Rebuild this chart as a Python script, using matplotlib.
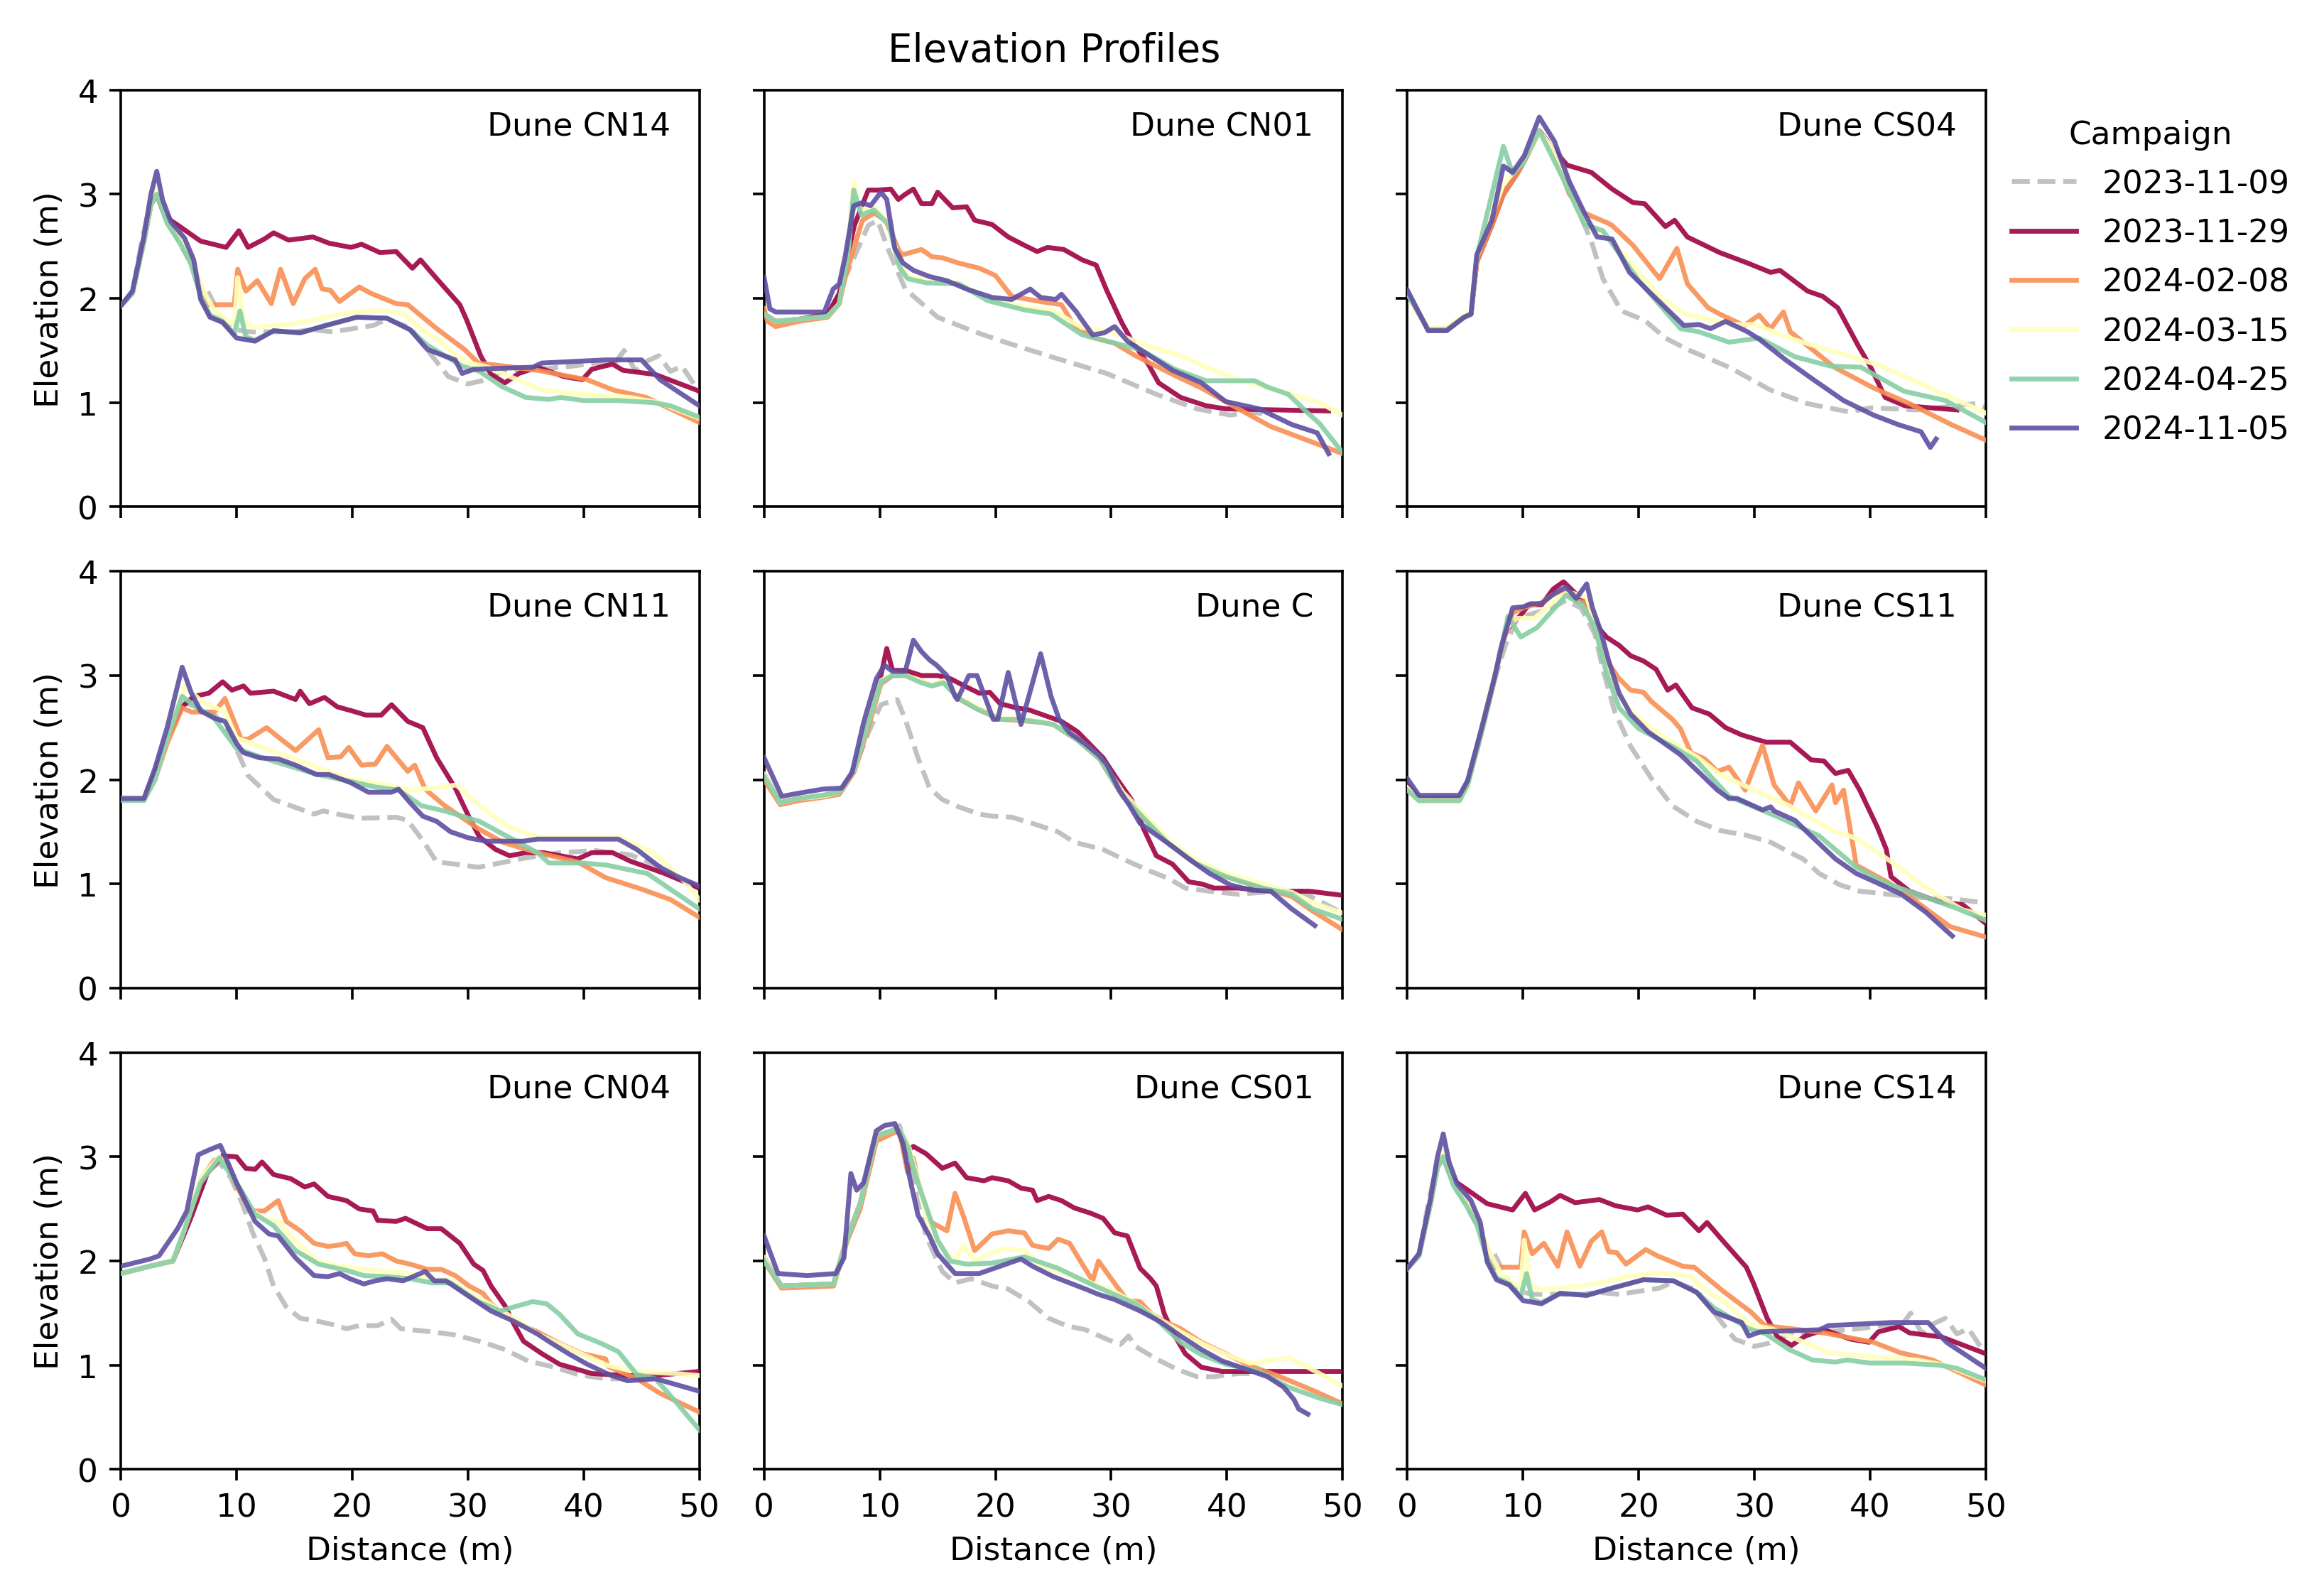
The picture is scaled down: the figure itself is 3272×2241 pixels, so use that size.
import matplotlib
matplotlib.use("Agg")
import matplotlib.pyplot as plt

# ---------------- data ----------------
CAMPAIGNS = ["2023-11-09", "2023-11-29", "2024-02-08", "2024-03-15", "2024-04-25", "2024-11-05"]
DUNES = ["Dune CN14", "Dune CN01", "Dune CS04",
         "Dune CN11", "Dune C", "Dune CS11",
         "Dune CN04", "Dune CS01", "Dune CS14"]

# ---- Dune CN14 ----
CN14_D_231109 = [0, 1, 1.8, 2.5, 3.1, 4, 5, 6, 7, 7.5, 9, 10, 11, 13, 15, 16.5, 18.3, 21.8, 23, 25, 27.1, 28.3, 30, 31.2, 33, 35, 37, 39, 41, 42.5, 43.5, 44.5, 45.5, 46.5, 47.5, 48.5, 50]
CN14_Z_231109 = [1.93, 2.05, 2.55, 2.9, 3.0, 2.75, 2.55, 2.35, 2.1, 2.07, 1.75, 1.7, 1.68, 1.68, 1.68, 1.7, 1.68, 1.74, 1.8, 1.72, 1.42, 1.25, 1.18, 1.21, 1.3, 1.32, 1.33, 1.35, 1.38, 1.35, 1.5, 1.3, 1.4, 1.45, 1.3, 1.35, 1.1]
CN14_D_231129 = [0, 1, 2, 2.6, 3.1, 3.6, 4.3, 5.1, 6.9, 9.1, 10.2, 11.0, 12.4, 13.2, 14.5, 16.6, 18, 19.9, 20.8, 22.4, 23.8, 25.2, 25.9, 27.3, 29.3, 29.9, 31.1, 32.0, 33.2, 34.4, 36, 38.3, 39.9, 40.7, 42.5, 43.4, 46.2, 50]
CN14_Z_231129 = [1.93, 2.05, 2.55, 2.9, 3.0, 2.85, 2.75, 2.69, 2.55, 2.49, 2.65, 2.49, 2.57, 2.63, 2.56, 2.59, 2.53, 2.49, 2.52, 2.44, 2.45, 2.29, 2.37, 2.19, 1.94, 1.79, 1.45, 1.27, 1.19, 1.28, 1.34, 1.25, 1.22, 1.32, 1.37, 1.31, 1.27, 1.11]
CN14_D_240208 = [0, 1, 2, 2.6, 3.1, 4, 5, 6, 6.9, 7.5, 9.8, 10.1, 10.8, 11.8, 13.0, 13.8, 14.9, 15.9, 16.8, 17.4, 18.1, 18.9, 20.6, 21.6, 23.8, 24.8, 27.3, 29.7, 30.9, 33.2, 36, 40.3, 42.6, 45.4, 50]
CN14_Z_240208 = [1.93, 2.05, 2.55, 2.9, 3.0, 2.75, 2.6, 2.4, 2.11, 1.94, 1.94, 2.28, 2.07, 2.17, 1.95, 2.28, 1.95, 2.19, 2.28, 2.09, 2.08, 1.97, 2.11, 2.05, 1.95, 1.94, 1.71, 1.51, 1.38, 1.35, 1.31, 1.22, 1.12, 1.05, 0.81]
CN14_D_240315 = [0, 1, 2, 2.6, 3.1, 4, 5, 6, 7, 8, 9, 9.8, 10.1, 10.6, 11.5, 13, 15, 17, 19, 21, 23, 24.5, 26, 27.5, 29, 30, 31.5, 33, 36.4, 40, 44, 46.5, 50]
CN14_Z_240315 = [1.93, 2.05, 2.55, 2.9, 3.05, 2.75, 2.6, 2.4, 2.1, 1.9, 1.8, 1.75, 2.2, 1.78, 1.72, 1.74, 1.76, 1.8, 1.85, 1.88, 1.88, 1.85, 1.7, 1.6, 1.45, 1.38, 1.35, 1.28, 1.12, 1.08, 1.05, 1.0, 0.85]
CN14_D_240425 = [0, 1, 2, 2.6, 3.1, 4, 5, 6, 6.9, 7.7, 8.8, 9.8, 10.3, 10.8, 11.6, 13.2, 15.5, 17.7, 20.4, 23, 25, 26.5, 28, 29.5, 31, 33, 35, 37, 38, 40, 43, 46, 47.5, 50]
CN14_Z_240425 = [1.93, 2.05, 2.55, 2.9, 3.0, 2.72, 2.55, 2.35, 2.02, 1.84, 1.78, 1.66, 1.88, 1.63, 1.6, 1.69, 1.67, 1.74, 1.82, 1.81, 1.7, 1.55, 1.45, 1.35, 1.3, 1.15, 1.05, 1.03, 1.05, 1.02, 1.02, 1.0, 0.97, 0.86]
CN14_D_241105 = [0, 1, 2, 2.6, 3.1, 3.6, 4.3, 5.5, 6.3, 6.9, 7.7, 8.8, 10, 11.6, 13.2, 15.5, 17.7, 20.4, 23, 25, 26.5, 28.9, 29.5, 30.5, 35.6, 36.4, 41.9, 45, 46.6, 50]
CN14_Z_241105 = [1.93, 2.07, 2.6, 3.0, 3.22, 2.95, 2.74, 2.58, 2.37, 1.99, 1.82, 1.77, 1.62, 1.59, 1.69, 1.67, 1.74, 1.82, 1.81, 1.7, 1.51, 1.41, 1.28, 1.32, 1.34, 1.38, 1.41, 1.41, 1.22, 0.97]

# ---- Dune CN01 ----
CN01_D_231109 = [0, 1, 3, 5, 6, 7, 8, 9, 9.8, 10.8, 12.2, 15, 18.2, 21.1, 25.4, 29.6, 33.9, 37.4, 40.3, 42.1, 44]
CN01_Z_231109 = [1.85, 1.78, 1.8, 1.82, 1.9, 2.2, 2.45, 2.7, 2.75, 2.45, 2.09, 1.82, 1.68, 1.57, 1.42, 1.28, 1.08, 0.94, 0.88, 0.91, 0.88]
CN01_D_231129 = [0, 1, 3, 5.5, 6.5, 7.2, 7.8, 8.5, 9.0, 9.9, 10.95, 11.6, 12.2, 12.9, 13.6, 14.5, 15.0, 16.3, 17.5, 18.2, 19.7, 21.1, 22.5, 23.6, 24.5, 25.9, 27.5, 28.7, 29.6, 30.9, 31.9, 33.2, 34.1, 36.0, 38.2, 39.9, 48.8]
CN01_Z_231129 = [1.85, 1.78, 1.8, 1.85, 2.05, 2.4, 2.7, 2.9, 3.04, 3.04, 3.05, 2.95, 3.0, 3.05, 2.91, 2.91, 3.02, 2.87, 2.88, 2.75, 2.71, 2.59, 2.51, 2.45, 2.49, 2.47, 2.37, 2.32, 2.08, 1.77, 1.57, 1.37, 1.19, 1.05, 0.97, 0.94, 0.92]
CN01_D_240208 = [0, 0.3, 1, 3, 5.5, 6.5, 7.0, 7.8, 8.5, 9.5, 10.5, 11.7, 12.0, 13.6, 14.5, 15.4, 16.8, 18.6, 20.0, 21.4, 23.9, 25.7, 26.8, 28.6, 30.3, 32.1, 35.7, 37.8, 41.0, 43.8, 47.4, 50]
CN01_Z_240208 = [1.9, 1.78, 1.73, 1.78, 1.82, 1.95, 2.2, 2.5, 2.75, 2.82, 2.75, 2.45, 2.42, 2.47, 2.4, 2.39, 2.34, 2.29, 2.22, 2.02, 1.97, 1.94, 1.74, 1.62, 1.57, 1.45, 1.25, 1.14, 0.94, 0.77, 0.62, 0.51]
CN01_D_240315 = [0, 1, 3, 5.5, 6.5, 7.3, 7.75, 8.3, 9.5, 10.8, 11.7, 12.5, 14, 16.8, 19.3, 22.5, 25, 27.5, 30, 33, 36, 38, 41, 45, 48, 50]
CN01_Z_240315 = [1.85, 1.78, 1.8, 1.83, 1.95, 2.5, 3.12, 2.85, 2.88, 2.7, 2.35, 2.2, 2.2, 2.15, 2.0, 1.92, 1.88, 1.72, 1.68, 1.55, 1.45, 1.35, 1.22, 1.1, 1.0, 0.88]
CN01_D_240425 = [0, 1, 3, 5.5, 6.5, 7.2, 7.75, 8.4, 9.5, 10.8, 11.7, 12.4, 14, 16.8, 19.3, 22.5, 24.8, 27.5, 29.6, 32.5, 35.5, 38.2, 39.9, 42.4, 43.5, 45.3, 46.9, 48, 50]
CN01_Z_240425 = [1.85, 1.78, 1.8, 1.83, 1.95, 2.4, 3.04, 2.8, 2.85, 2.7, 2.3, 2.19, 2.15, 2.14, 1.98, 1.89, 1.85, 1.65, 1.59, 1.51, 1.32, 1.21, 1.21, 1.21, 1.15, 1.08, 0.91, 0.8, 0.52]
CN01_D_241105 = [0, 0.5, 1, 5.2, 5.97, 6.5, 7.0, 7.75, 8.5, 9.2, 10.1, 10.6, 11.3, 12.0, 12.9, 14.3, 15.8, 17.5, 19.7, 21.4, 23.0, 23.9, 25.2, 25.7, 27.0, 27.3, 28.4, 29.4, 30.3, 31.4, 32.5, 35.3, 37.8, 39.9, 42.8, 45.6, 47.8, 48.8]
CN01_Z_241105 = [2.2, 1.9, 1.87, 1.87, 2.09, 2.14, 2.4, 2.89, 2.92, 2.89, 3.02, 2.95, 2.48, 2.34, 2.27, 2.21, 2.17, 2.09, 2.01, 1.99, 2.09, 2.01, 1.99, 2.04, 1.87, 1.82, 1.65, 1.67, 1.73, 1.59, 1.51, 1.31, 1.19, 1.01, 0.94, 0.79, 0.71, 0.51]

# ---- Dune CS04 ----
CS04_D_231109 = [0, 1.8, 3.4, 4.9, 5.5, 6.0, 7.3, 8.5, 10, 11.4, 12.7, 14, 15.9, 16.9, 18.5, 20.5, 22.3, 24.2, 27.8, 31.4, 34.6, 38.2, 40, 44, 49.1, 50]
CS04_Z_231109 = [2.05, 1.7, 1.7, 1.82, 1.85, 2.4, 2.75, 3.05, 3.3, 3.6, 3.45, 3.05, 2.55, 2.19, 1.88, 1.79, 1.62, 1.51, 1.34, 1.12, 0.99, 0.91, 0.95, 0.93, 0.99, 0.95]
CS04_D_231129 = [0, 1.8, 3.4, 4.9, 5.5, 6.0, 7.3, 8.3, 9.5, 10.5, 11.4, 12.5, 13.8, 15.9, 17.7, 19.5, 20.5, 22.3, 23.1, 24.2, 27.0, 29.4, 31.4, 32.2, 34.6, 35.9, 37.2, 39.0, 40.0, 41.3, 43, 47.5]
CS04_Z_231129 = [2.05, 1.7, 1.7, 1.82, 1.85, 2.35, 2.7, 3.0, 3.2, 3.4, 3.61, 3.45, 3.28, 3.21, 3.05, 2.92, 2.91, 2.69, 2.75, 2.59, 2.44, 2.34, 2.25, 2.27, 2.07, 2.02, 1.91, 1.54, 1.35, 1.05, 0.97, 0.93]
CS04_D_240208 = [0, 1.8, 3.4, 4.9, 5.5, 6.0, 7.3, 8.3, 9.5, 10.5, 11.4, 12.5, 14.0, 15.3, 17.4, 17.7, 19.5, 21.8, 23.3, 24.2, 26.0, 27.0, 29.1, 30.4, 31.4, 32.5, 33.1, 36.9, 40.3, 43.4, 47.0, 50]
CS04_Z_240208 = [2.05, 1.7, 1.7, 1.82, 1.85, 2.35, 2.7, 3.0, 3.2, 3.4, 3.6, 3.45, 3.0, 2.82, 2.72, 2.7, 2.51, 2.19, 2.48, 2.14, 1.91, 1.85, 1.74, 1.84, 1.71, 1.87, 1.68, 1.34, 1.14, 0.99, 0.79, 0.64]
CS04_D_240315 = [0, 1.8, 3.4, 4.9, 5.5, 6.0, 7.3, 8.3, 9.5, 10.5, 11.4, 12.5, 14, 15.3, 16.9, 18.5, 20, 22, 24, 26, 28, 30, 33, 36, 39, 41, 44, 48, 50]
CS04_Z_240315 = [2.05, 1.72, 1.72, 1.84, 1.87, 2.4, 2.8, 3.1, 3.25, 3.4, 3.6, 3.45, 3.05, 2.75, 2.62, 2.45, 2.25, 2.0, 1.85, 1.8, 1.75, 1.75, 1.62, 1.52, 1.42, 1.35, 1.2, 1.0, 0.9]
CS04_D_240425 = [0, 1.8, 3.4, 4.9, 5.5, 6.0, 7.3, 8.3, 9.1, 10.0, 11.4, 13.5, 15.3, 16.9, 20.0, 23.6, 25.2, 27.8, 30.4, 33.5, 36.6, 39.2, 42.9, 46.5, 50]
CS04_Z_240425 = [2.05, 1.7, 1.7, 1.82, 1.85, 2.4, 3.0, 3.46, 3.2, 3.3, 3.61, 3.14, 2.71, 2.65, 2.17, 1.71, 1.68, 1.58, 1.62, 1.44, 1.35, 1.34, 1.11, 1.02, 0.81]
CS04_D_241105 = [0, 1.8, 3.4, 4.9, 5.5, 6.0, 7.3, 8.3, 9.1, 10.1, 11.4, 12.7, 14.0, 15.3, 16.4, 17.7, 19.2, 21.3, 22.6, 23.9, 25.2, 26.2, 27.5, 29.4, 30.4, 32.7, 35.1, 37.7, 40.3, 42.4, 44.4, 45.2, 45.7]
CS04_Z_241105 = [2.08, 1.69, 1.69, 1.82, 1.85, 2.42, 2.75, 3.27, 3.21, 3.37, 3.74, 3.51, 3.12, 2.82, 2.59, 2.57, 2.25, 2.02, 1.88, 1.74, 1.75, 1.71, 1.78, 1.68, 1.61, 1.41, 1.22, 1.02, 0.88, 0.79, 0.72, 0.57, 0.65]

# ---- Dune CN11 ----
CN11_D_231109 = [0, 2, 2.95, 4, 5.3, 6.5, 8.1, 9.2, 11.0, 13.2, 16.7, 17.5, 18.7, 20.6, 23.8, 24.8, 26.2, 27.3, 28.9, 30.9, 33.2, 35, 38, 41, 44, 47, 50]
CN11_Z_231109 = [1.82, 1.82, 2.05, 2.4, 2.75, 2.7, 2.62, 2.49, 2.04, 1.81, 1.67, 1.7, 1.67, 1.63, 1.64, 1.61, 1.4, 1.21, 1.19, 1.16, 1.21, 1.25, 1.3, 1.32, 1.28, 1.15, 0.95]
CN11_D_231129 = [0, 2, 2.95, 4, 5.3, 6.3, 7.6, 8.8, 9.6, 10.6, 11.2, 13.2, 15.1, 15.5, 16.3, 17.6, 18.7, 20.0, 21.2, 22.5, 23.4, 24.8, 26.1, 27.3, 28.9, 30.1, 31.0, 32.4, 33.6, 35, 36.5, 39.5, 40.7, 42.5, 44, 47, 50]
CN11_Z_231129 = [1.82, 1.82, 2.05, 2.4, 2.7, 2.8, 2.83, 2.94, 2.86, 2.9, 2.83, 2.85, 2.77, 2.85, 2.73, 2.79, 2.70, 2.66, 2.62, 2.62, 2.72, 2.56, 2.50, 2.21, 1.92, 1.64, 1.45, 1.33, 1.27, 1.3, 1.3, 1.24, 1.30, 1.3, 1.22, 1.1, 0.96]
CN11_D_240208 = [0, 2, 2.95, 4, 5.3, 6.1, 8.1, 9.0, 10.4, 11.0, 12.6, 13.6, 15.1, 15.8, 17.1, 17.9, 19.0, 19.7, 20.8, 22.0, 23.0, 24.8, 25.4, 26.3, 28.0, 30.9, 33.0, 36.0, 39.5, 41.9, 45, 47.5, 50]
CN11_Z_240208 = [1.82, 1.82, 2.0, 2.35, 2.69, 2.65, 2.65, 2.78, 2.39, 2.39, 2.50, 2.41, 2.28, 2.35, 2.48, 2.21, 2.22, 2.31, 2.14, 2.15, 2.32, 2.08, 2.14, 1.91, 1.75, 1.53, 1.4, 1.3, 1.21, 1.06, 0.95, 0.85, 0.68]
CN11_D_240315 = [0, 2, 2.95, 4, 5.5, 7, 9, 10, 12.5, 15, 17.5, 20, 23, 25, 27, 29, 31, 33.5, 36, 40, 43, 46, 48.5, 50]
CN11_Z_240315 = [1.82, 1.82, 2.0, 2.4, 2.9, 2.75, 2.65, 2.4, 2.3, 2.2, 2.1, 2.0, 1.95, 1.9, 1.92, 1.95, 1.75, 1.55, 1.45, 1.45, 1.45, 1.3, 1.05, 0.85]
CN11_D_240425 = [0, 2, 2.95, 4, 5.3, 6.5, 8, 10, 12, 14, 17, 20, 22, 24, 26, 28, 31, 33.5, 36, 37, 40, 42, 45.5, 50]
CN11_Z_240425 = [1.8, 1.8, 2.0, 2.4, 2.8, 2.7, 2.6, 2.3, 2.22, 2.15, 2.05, 1.98, 1.93, 1.9, 1.75, 1.7, 1.6, 1.45, 1.3, 1.2, 1.2, 1.18, 1.1, 0.76]
CN11_D_241105 = [0, 2, 2.95, 4, 5.3, 6.1, 6.9, 8.1, 9.0, 10.0, 10.6, 12.0, 13.6, 15.1, 16.9, 18.0, 19.9, 21.4, 23.4, 24.0, 25.0, 26.1, 27.3, 28.5, 30.1, 31.6, 34.8, 36, 43.0, 44.6, 46.6, 48.1, 50]
CN11_Z_241105 = [1.82, 1.82, 2.11, 2.5, 3.08, 2.83, 2.66, 2.59, 2.56, 2.35, 2.26, 2.21, 2.2, 2.14, 2.05, 2.05, 1.97, 1.88, 1.88, 1.91, 1.78, 1.65, 1.60, 1.50, 1.44, 1.41, 1.41, 1.43, 1.43, 1.33, 1.16, 1.07, 0.98]

# ---- Dune C ----
C_D_231109 = [0, 1.4, 3, 5, 6.5, 7.8, 9, 10.1, 11.5, 12.2, 13.3, 14.3, 15.4, 16.8, 18.6, 19.7, 21.4, 23.2, 25.4, 26.8, 29.3, 31.0, 33.2, 35.0, 36.4, 38.5, 41.0, 44.2, 46.3, 48.1, 50]
C_Z_231109 = [2.05, 1.78, 1.82, 1.84, 1.88, 2.1, 2.45, 2.72, 2.77, 2.58, 2.21, 1.92, 1.81, 1.74, 1.67, 1.65, 1.64, 1.58, 1.50, 1.40, 1.33, 1.24, 1.13, 1.05, 0.96, 0.93, 0.90, 0.93, 0.93, 0.83, 0.72]
C_D_231129 = [0, 1.4, 3, 5, 6.5, 7.8, 9, 10.0, 10.6, 11.1, 12.2, 13.6, 15, 16.1, 17.5, 18.6, 19.5, 20.4, 21.8, 22.9, 25.7, 27.1, 29.3, 30.3, 31.8, 32.8, 33.9, 35.3, 36.7, 37.8, 38.9, 41.0, 43.8, 47.1, 50]
C_Z_231129 = [2.05, 1.78, 1.82, 1.84, 1.88, 2.1, 2.55, 2.95, 3.26, 3.05, 3.05, 3.0, 3.0, 2.97, 2.89, 2.83, 2.84, 2.73, 2.69, 2.67, 2.56, 2.46, 2.21, 2.04, 1.80, 1.53, 1.27, 1.19, 1.02, 1.00, 0.96, 0.96, 0.93, 0.93, 0.89]
C_D_240208 = [0, 1.4, 3, 5, 6.5, 7.8, 9, 10.1, 11.1, 12.2, 13.6, 14.5, 15.5, 16.8, 18.4, 20.4, 22, 24, 25, 27.1, 29, 31, 33, 35, 37.4, 39.9, 43.1, 45.6, 47.4, 50]
C_Z_240208 = [2.0, 1.76, 1.8, 1.83, 1.86, 2.08, 2.5, 2.92, 3.0, 3.0, 2.95, 2.9, 2.95, 2.78, 2.68, 2.58, 2.57, 2.55, 2.53, 2.38, 2.2, 1.84, 1.61, 1.38, 1.19, 1.07, 0.96, 0.88, 0.74, 0.56]
C_D_240315 = [0, 1.4, 3, 5, 6.5, 7.8, 9, 10.1, 11.1, 12.2, 13.6, 14.5, 15.5, 16.8, 18.4, 20.4, 22, 24, 25, 27.1, 29, 31, 33, 35, 37.4, 39.9, 43.1, 45.6, 47.4, 50]
C_Z_240315 = [2.05, 1.78, 1.82, 1.84, 1.88, 2.1, 2.55, 2.95, 3.02, 3.0, 2.95, 2.9, 2.95, 2.8, 2.7, 2.6, 2.58, 2.56, 2.53, 2.4, 2.22, 1.88, 1.65, 1.42, 1.22, 1.1, 1.0, 0.92, 0.82, 0.72]
C_D_240425 = [0, 1.4, 3, 5, 6.5, 7.8, 9, 10.1, 11.1, 12.2, 13.6, 14.5, 15.5, 16.8, 18.4, 20.4, 22, 24, 25, 27.1, 29, 31, 33, 35, 37.4, 39.9, 43.1, 45.6, 47.4, 50]
C_Z_240425 = [2.03, 1.78, 1.82, 1.85, 1.88, 2.1, 2.55, 2.94, 3.0, 3.0, 2.93, 2.9, 2.93, 2.78, 2.68, 2.58, 2.58, 2.55, 2.53, 2.38, 2.2, 1.84, 1.61, 1.38, 1.19, 1.07, 0.96, 0.9, 0.76, 0.66]
C_D_241105 = [0, 1.53, 2.95, 5.1, 6.7, 7.6, 8.6, 9.7, 10.4, 11.1, 12.2, 12.9, 13.6, 14.3, 14.9, 15.8, 16.5, 16.7, 17.7, 18.4, 19.8, 20.2, 21.1, 22.2, 23.9, 24.8, 25.5, 26.4, 27.7, 28.9, 29.6, 30.7, 31.6, 32.5, 33.9, 35.3, 36.7, 38.5, 40.3, 42.1, 43.8, 45.6, 47.6]
C_Z_241105 = [2.21, 1.84, 1.87, 1.91, 1.92, 2.07, 2.55, 2.97, 3.10, 3.04, 3.04, 3.34, 3.23, 3.15, 3.10, 3.00, 2.80, 2.77, 3.00, 3.00, 2.58, 2.58, 3.03, 2.53, 3.21, 2.80, 2.58, 2.45, 2.35, 2.24, 2.15, 1.90, 1.75, 1.58, 1.47, 1.36, 1.24, 1.10, 0.99, 0.94, 0.93, 0.76, 0.60]

# ---- Dune CS11 ----
CS11_D_231109 = [0, 1, 4.5, 5.2, 6.4, 7.5, 8.5, 9.5, 11, 12.5, 13.7, 15, 16.2, 16.9, 17.9, 19.3, 21.1, 22.9, 25.0, 27.1, 29.2, 31.4, 33.1, 34.2, 35.6, 37.4, 39.1, 41.6, 44.1, 46.9, 49.0, 50]
CS11_Z_231109 = [1.95, 1.82, 1.82, 1.95, 2.45, 2.95, 3.3, 3.55, 3.6, 3.65, 3.72, 3.65, 3.4, 3.06, 2.66, 2.32, 2.01, 1.75, 1.60, 1.51, 1.47, 1.40, 1.30, 1.24, 1.10, 0.99, 0.93, 0.90, 0.87, 0.86, 0.83, 0.82]
CS11_D_231129 = [0, 1, 4.5, 5.2, 6.4, 7.5, 8.0, 8.6, 9.8, 10.5, 11.6, 12.6, 13.5, 14.6, 15.6, 16.5, 17.2, 18.3, 19.3, 20.4, 21.5, 22.5, 23.2, 24.6, 26.1, 27.5, 28.9, 31.0, 33.1, 34.9, 36.0, 37.0, 38.1, 39.1, 40.6, 41.4, 41.8, 43.4, 45.9, 48.0, 50]
CS11_Z_231129 = [1.95, 1.82, 1.82, 1.97, 2.47, 2.95, 3.23, 3.45, 3.58, 3.68, 3.68, 3.83, 3.90, 3.78, 3.68, 3.46, 3.37, 3.29, 3.19, 3.14, 3.06, 2.86, 2.91, 2.69, 2.63, 2.50, 2.43, 2.36, 2.36, 2.19, 2.18, 2.06, 2.09, 1.90, 1.55, 1.33, 1.07, 0.93, 0.83, 0.80, 0.62]
CS11_D_240208 = [0, 1, 4.5, 5.2, 6.4, 7.5, 8.2, 9.1, 10.0, 11.6, 12.6, 13.7, 14.6, 15.5, 16.2, 17.2, 18.3, 19.3, 20.4, 21.1, 22.9, 23.6, 24.5, 25.7, 26.8, 27.8, 29.2, 30.7, 31.7, 33.1, 33.8, 35.3, 36.7, 37.0, 37.7, 38.8, 41.6, 44.1, 46.9, 50]
CS11_Z_240208 = [1.92, 1.8, 1.8, 1.95, 2.45, 2.95, 3.3, 3.6, 3.65, 3.7, 3.78, 3.8, 3.72, 3.7, 3.45, 3.15, 2.97, 2.86, 2.84, 2.75, 2.58, 2.49, 2.26, 2.20, 2.08, 2.12, 1.90, 2.33, 1.95, 1.75, 1.97, 1.70, 1.95, 1.78, 1.90, 1.18, 1.01, 0.82, 0.59, 0.49]
CS11_D_240315 = [0, 1, 4.5, 5.2, 6.4, 7.5, 8.5, 9.5, 11, 13, 14, 15.5, 16.5, 17.5, 19, 21, 23, 25, 27, 29, 31, 33, 35, 37, 38.5, 40, 42, 45, 48, 50]
CS11_Z_240315 = [1.92, 1.8, 1.8, 1.95, 2.5, 3.0, 3.45, 3.55, 3.55, 3.75, 3.8, 3.75, 3.4, 3.0, 2.7, 2.5, 2.35, 2.22, 2.05, 1.95, 1.85, 1.75, 1.62, 1.5, 1.45, 1.35, 1.2, 0.95, 0.75, 0.7]
CS11_D_240425 = [0, 1, 4.5, 5.2, 6.4, 7.5, 8.7, 9.8, 11.2, 13.0, 13.7, 15.1, 16.2, 17.2, 18.3, 20.0, 22.9, 25.0, 27.8, 32.1, 35.6, 38.8, 41.3, 44.1, 47.6, 50]
CS11_Z_240425 = [1.9, 1.8, 1.8, 1.95, 2.45, 2.95, 3.57, 3.37, 3.46, 3.68, 3.77, 3.68, 3.46, 3.03, 2.69, 2.49, 2.32, 2.18, 1.84, 1.64, 1.46, 1.16, 1.01, 0.90, 0.76, 0.65]
CS11_D_241105 = [0, 1, 4.5, 5.2, 6.4, 7.5, 8.2, 9.1, 10.0, 10.7, 11.6, 12.6, 13.7, 14.6, 15.5, 16.0, 16.7, 17.4, 18.3, 19.3, 20.8, 22.2, 23.6, 25.4, 26.8, 27.8, 28.5, 29.9, 30.7, 31.4, 31.7, 33.5, 34.9, 37.0, 38.8, 40.6, 42.7, 44.8, 47.1]
CS11_Z_241105 = [2.01, 1.85, 1.85, 1.99, 2.49, 2.97, 3.31, 3.65, 3.66, 3.69, 3.69, 3.78, 3.85, 3.74, 3.88, 3.65, 3.43, 3.14, 2.83, 2.63, 2.46, 2.35, 2.24, 2.05, 1.90, 1.82, 1.82, 1.75, 1.71, 1.74, 1.70, 1.61, 1.46, 1.24, 1.10, 1.01, 0.90, 0.73, 0.50]

# ---- Dune CN04 ----
CN04_D_231109 = [0, 2.5, 4.5, 6, 7.5, 8.5, 9.5, 10.5, 11.4, 12.4, 13.2, 14.3, 15.5, 17.1, 18.7, 19.5, 20.6, 22.2, 23.4, 24.2, 26.9, 28.9, 31.3, 33.2, 35.2, 37.5, 39.5, 41.9, 44.6, 46.2]
CN04_Z_231109 = [1.88, 1.95, 2.0, 2.4, 2.85, 2.95, 2.8, 2.55, 2.27, 2.03, 1.76, 1.56, 1.45, 1.42, 1.38, 1.35, 1.38, 1.38, 1.44, 1.35, 1.32, 1.29, 1.22, 1.15, 1.04, 0.98, 0.91, 0.87, 0.87, 0.87]
CN04_D_231129 = [0, 2.5, 4.5, 6, 7.5, 8.8, 10.0, 10.8, 11.6, 12.2, 13.2, 14.7, 15.9, 16.7, 17.9, 19.5, 20.6, 21.8, 22.2, 23.8, 24.6, 26.5, 27.7, 29.3, 30.5, 31.3, 32.0, 33.2, 34.0, 34.8, 36.4, 37.9, 40.7, 43.8, 46.2, 50]
CN04_Z_231129 = [1.88, 1.95, 2.0, 2.4, 2.85, 3.01, 3.0, 2.89, 2.88, 2.95, 2.83, 2.79, 2.71, 2.74, 2.62, 2.58, 2.50, 2.48, 2.39, 2.38, 2.41, 2.31, 2.31, 2.17, 1.97, 1.91, 1.76, 1.57, 1.39, 1.23, 1.11, 1.01, 0.92, 0.90, 0.90, 0.94]
CN04_D_240208 = [0, 2.5, 4.5, 5.5, 6.9, 8.1, 9.0, 10.0, 11.2, 12.4, 13.6, 14.3, 15.5, 16.7, 17.9, 18.7, 19.5, 20.2, 21.4, 22.6, 23.8, 25.0, 26.5, 27.7, 28.9, 30.1, 31.3, 32.0, 34.0, 36.0, 37.9, 39.9, 41.9, 42.1, 44.6, 46.6, 50]
CN04_Z_240208 = [1.88, 1.95, 2.0, 2.3, 2.79, 2.97, 2.98, 2.72, 2.48, 2.48, 2.58, 2.38, 2.29, 2.17, 2.14, 2.15, 2.17, 2.07, 2.05, 2.07, 2.00, 1.97, 1.92, 1.92, 1.86, 1.76, 1.69, 1.59, 1.42, 1.32, 1.21, 1.11, 1.06, 0.99, 0.87, 0.73, 0.55]
CN04_D_240315 = [0, 2.5, 4.5, 5.5, 6.9, 8.5, 10, 11.2, 12.4, 13.6, 15, 17, 19, 21, 23, 25, 27, 28.5, 30, 32, 34, 36, 38, 40, 42, 44, 46, 48, 50]
CN04_Z_240315 = [1.88, 1.95, 2.0, 2.3, 2.8, 3.0, 2.75, 2.5, 2.4, 2.38, 2.2, 2.0, 1.95, 1.92, 1.9, 1.88, 1.82, 1.82, 1.7, 1.58, 1.45, 1.3, 1.2, 1.1, 1.0, 0.95, 0.93, 0.92, 0.9]
CN04_D_240425 = [0, 2.5, 4.5, 5.5, 6.9, 8.5, 10.4, 11.6, 13.2, 15.1, 17.1, 19.5, 21.0, 23, 25.0, 26.9, 28.5, 30.9, 32.8, 34.0, 35.6, 36.8, 37.9, 39.5, 41.5, 43.0, 44.6, 46.2, 47.8, 50]
CN04_Z_240425 = [1.88, 1.95, 2.0, 2.3, 2.75, 2.99, 2.68, 2.45, 2.34, 2.10, 1.97, 1.91, 1.86, 1.85, 1.83, 1.79, 1.79, 1.61, 1.52, 1.56, 1.61, 1.59, 1.49, 1.30, 1.21, 1.13, 0.91, 0.87, 0.67, 0.38]
CN04_D_241105 = [0, 2.55, 3.3, 4.9, 5.7, 6.7, 7.7, 8.6, 9.0, 10.0, 11.6, 12.8, 13.6, 15.1, 16.7, 17.9, 18.9, 19.8, 21.0, 22.0, 23.0, 24.4, 26.3, 27.1, 28.1, 30.1, 32.0, 34.0, 36.0, 37.1, 38.7, 40.3, 42.2, 43.8, 46.2, 47.8, 50]
CN04_Z_241105 = [1.95, 2.02, 2.05, 2.31, 2.48, 3.02, 3.07, 3.11, 3.01, 2.75, 2.38, 2.26, 2.24, 2.03, 1.86, 1.85, 1.88, 1.83, 1.78, 1.81, 1.83, 1.81, 1.90, 1.81, 1.81, 1.66, 1.52, 1.42, 1.30, 1.22, 1.11, 1.01, 0.91, 0.85, 0.87, 0.82, 0.75]

# ---- Dune CS01 ----
CS01_D_231109 = [0, 1.5, 6, 7.2, 8.3, 9.7, 11.0, 11.7, 12.5, 13.2, 14.0, 15.4, 16.5, 17.9, 19.7, 21.1, 22.9, 24.6, 26.1, 27.8, 29.6, 30.8, 31.5, 32.1, 33.9, 35.7, 37.4, 38.9, 41.0, 42.8]
CS01_Z_231109 = [2.03, 1.76, 1.78, 2.24, 2.55, 3.2, 3.25, 3.3, 3.0, 2.6, 2.24, 1.90, 1.79, 1.83, 1.76, 1.73, 1.61, 1.45, 1.38, 1.34, 1.25, 1.2, 1.28, 1.18, 1.06, 0.96, 0.89, 0.89, 0.92, 0.92]
CS01_D_231129 = [0, 1.5, 6, 7.2, 8.3, 9.7, 11.0, 11.7, 12.4, 12.9, 14.0, 15.4, 16.5, 17.5, 19.0, 19.7, 21.1, 22.2, 23.2, 23.6, 24.6, 25.7, 26.8, 28.2, 29.3, 30.3, 31.4, 32.5, 33.4, 33.9, 34.6, 35.3, 36.4, 37.8, 39.6, 44.6, 50]
CS01_Z_231129 = [2.03, 1.76, 1.78, 2.24, 2.55, 3.2, 3.25, 3.27, 3.06, 3.10, 3.03, 2.89, 2.94, 2.80, 2.77, 2.80, 2.77, 2.70, 2.68, 2.58, 2.62, 2.58, 2.51, 2.46, 2.41, 2.27, 2.24, 1.93, 1.83, 1.76, 1.49, 1.32, 1.11, 0.98, 0.94, 0.94, 0.94]
CS01_D_240208 = [0, 1.5, 6, 7.2, 8.3, 9.7, 11.0, 11.7, 12.4, 12.9, 13.4, 14.3, 15.8, 16.5, 17.2, 18.2, 19.7, 21.1, 22.5, 23.2, 24.6, 25.4, 26.4, 27.5, 28.4, 28.9, 30.0, 31.4, 32.5, 33.5, 34.6, 36.0, 37.8, 39.9, 42.1, 44.6, 47.8, 50]
CS01_Z_240208 = [2.0, 1.74, 1.76, 2.2, 2.5, 3.15, 3.22, 3.25, 2.85, 2.99, 2.72, 2.38, 2.29, 2.65, 2.44, 2.10, 2.26, 2.29, 2.27, 2.15, 2.12, 2.21, 2.17, 1.97, 1.81, 2.00, 1.83, 1.62, 1.61, 1.49, 1.42, 1.35, 1.22, 1.11, 0.99, 0.89, 0.74, 0.63]
CS01_D_240315 = [0, 1.5, 6, 7.2, 8.3, 9.7, 11.0, 11.7, 12.5, 13.4, 14.3, 15.5, 16.5, 17.2, 18.2, 19.7, 21, 22.5, 24, 26, 28, 30, 32, 34, 36, 38, 40, 42, 44, 45.5, 47, 50]
CS01_Z_240315 = [2.03, 1.76, 1.78, 2.24, 2.55, 3.2, 3.25, 3.27, 3.1, 2.75, 2.3, 2.1, 2.0, 2.15, 2.0, 2.08, 2.12, 2.1, 1.95, 1.88, 1.8, 1.72, 1.6, 1.45, 1.32, 1.2, 1.1, 1.02, 1.05, 1.07, 0.98, 0.8]
CS01_D_240425 = [0, 1.5, 6, 7.2, 8.3, 9.7, 11.0, 11.7, 12.4, 13.3, 15.0, 16.1, 17.5, 19.7, 22.5, 25.4, 28.6, 32.1, 33.9, 36.0, 37.8, 39.9, 42.8, 45.3, 48.1, 50]
CS01_Z_240425 = [2.0, 1.76, 1.78, 2.22, 2.55, 3.2, 3.25, 3.26, 3.1, 2.75, 2.20, 2.00, 1.97, 1.98, 2.04, 1.93, 1.76, 1.59, 1.44, 1.22, 1.10, 1.01, 0.94, 0.79, 0.68, 0.62]
CS01_D_241105 = [0, 1.2, 3.7, 6.2, 6.9, 7.5, 8.0, 8.6, 9.7, 10.4, 11.3, 12.0, 12.6, 13.3, 14.3, 15.0, 16.5, 18.6, 20.4, 22.2, 23.2, 25.0, 26.4, 27.8, 28.9, 30.3, 32.5, 34.2, 36.0, 37.8, 39.6, 41.7, 43.5, 44.9, 45.8, 46.2, 47.0]
CS01_Z_241105 = [2.24, 1.88, 1.86, 1.88, 2.03, 2.84, 2.68, 2.75, 3.25, 3.30, 3.32, 3.13, 2.79, 2.44, 2.24, 2.07, 1.88, 1.88, 1.95, 2.02, 1.95, 1.85, 1.79, 1.73, 1.68, 1.63, 1.52, 1.42, 1.28, 1.15, 1.04, 0.96, 0.89, 0.79, 0.67, 0.58, 0.53]

# ---- Dune CS14 (profile identical to CN14 in the source figure) ----
CS14_D_231109, CS14_Z_231109 = list(CN14_D_231109), list(CN14_Z_231109)
CS14_D_231129, CS14_Z_231129 = list(CN14_D_231129), list(CN14_Z_231129)
CS14_D_240208, CS14_Z_240208 = list(CN14_D_240208), list(CN14_Z_240208)
CS14_D_240315, CS14_Z_240315 = list(CN14_D_240315), list(CN14_Z_240315)
CS14_D_240425, CS14_Z_240425 = list(CN14_D_240425), list(CN14_Z_240425)
CS14_D_241105, CS14_Z_241105 = list(CN14_D_241105), list(CN14_Z_241105)

KEYS = ["231109", "231129", "240208", "240315", "240425", "241105"]
PREFIX = {"Dune CN14": "CN14", "Dune CN01": "CN01", "Dune CS04": "CS04",
          "Dune CN11": "CN11", "Dune C": "C", "Dune CS11": "CS11",
          "Dune CN04": "CN04", "Dune CS01": "CS01", "Dune CS14": "CS14"}
G = globals()
PROFILES = {d: [(G[f"{PREFIX[d]}_D_{k}"], G[f"{PREFIX[d]}_Z_{k}"]) for k in KEYS] for d in DUNES}

# ---------------- styling ----------------
spectral = matplotlib.colormaps["Spectral"]
COLORS = ["#bbbbbb"] + [spectral(v) for v in (0.0, 0.25, 0.5, 0.75, 1.0)]
STYLES = ["--", "-", "-", "-", "-", "-"]

plt.rcParams["font.family"] = ["DejaVu Sans"]
plt.rcParams["font.size"] = 10

fig, axes = plt.subplots(3, 3, figsize=(10.0, 6.852), dpi=327.2, sharex=True, sharey=True)
fig.subplots_adjust(left=0.052, right=0.8545, top=0.943, bottom=0.077, wspace=0.112, hspace=0.155)

handles = []
for ax, dune in zip(axes.flat, DUNES):
    for i, (camp, (xd, yd)) in enumerate(zip(CAMPAIGNS, PROFILES[dune])):
        ln, = ax.plot(xd, yd, color=COLORS[i], linestyle=STYLES[i], linewidth=1.5,
                      alpha=0.9, label=camp, zorder=2 + i)
        if dune == DUNES[0]:
            handles.append(ln)
    ax.text(0.95, 0.95, dune, transform=ax.transAxes, ha="right", va="top", fontsize=10)
    ax.set_xlim(0, 50)
    ax.set_ylim(0, 4)
    ax.set_xticks([0, 10, 20, 30, 40, 50])
    ax.set_yticks([0, 1, 2, 3, 4])

for ax in axes[:, 0]:
    ax.set_ylabel("Elevation (m)")
for ax in axes[-1, :]:
    ax.set_xlabel("Distance (m)")

fig.text(0.4535, 0.968, "Elevation Profiles", ha="center", va="center", fontsize=12)

fig.legend(handles, CAMPAIGNS, title="Campaign", loc="upper left",
           bbox_to_anchor=(0.853, 0.943), frameon=False, fontsize=10, title_fontsize=10,
           labelspacing=0.58)

fig.savefig("out.png", dpi=327.2)
